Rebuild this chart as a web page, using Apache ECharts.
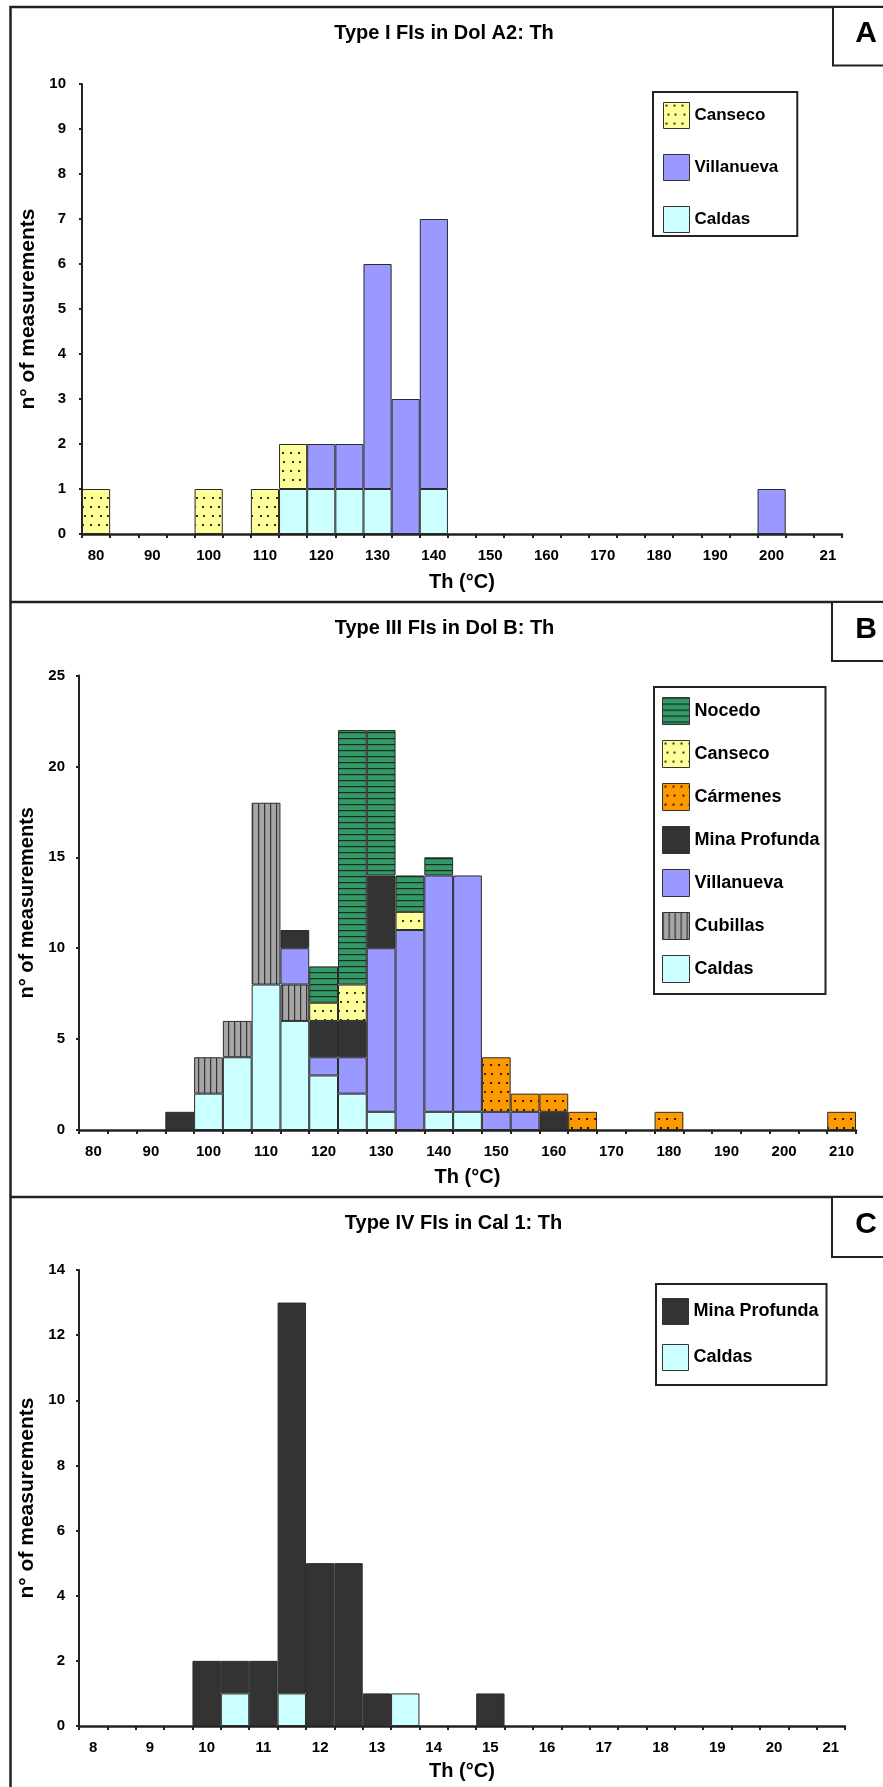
<!DOCTYPE html>
<html>
<head>
<meta charset="utf-8">
<script src="https://cdn.jsdelivr.net/npm/echarts@6/dist/echarts.min.js"></script>
<style>
html,body{margin:0;padding:0;background:#fff;}
#c{width:883px;height:1787px;}
</style>
</head>
<body>
<div id="c"></div>
<script>
// ---------- categories / tick labels ----------
const catsA = ['80','85','90','95','100','105','110','115','120','125','130','135','140','145','150','155','160','165','170','175','180','185','190','195','200','205','21'];
const catsB = ['80','85','90','95','100','105','110','115','120','125','130','135','140','145','150','155','160','165','170','175','180','185','190','195','200','205','210'];
const catsC = ['8','8.5','9','9.5','10','10.5','11','11.5','12','12.5','13','13.5','14','14.5','15','15.5','16','16.5','17','17.5','18','18.5','19','19.5','20','20.5','21'];

// ---------- panel A: Type I FIs in Dol A2 ----------
const caldasA     = [0,0,0,0,0,0,0,1,1,1,1,0,1,0,0,0,0,0,0,0,0,0,0,0,0,0,0];
const villanuevaA = [0,0,0,0,0,0,0,0,1,1,5,3,6,0,0,0,0,0,0,0,0,0,0,0,1,0,0];
const cansecoA    = [1,0,0,0,1,0,1,1,0,0,0,0,0,0,0,0,0,0,0,0,0,0,0,0,0,0,0];

// ---------- panel B: Type III FIs in Dol B ----------
const caldasB     = [0,0,0,0,2,4,8,6,3,2,1,0,1,1,0,0,0,0,0,0,0,0,0,0,0,0,0];
const cubillasB   = [0,0,0,0,2,2,10,2,0,0,0,0,0,0,0,0,0,0,0,0,0,0,0,0,0,0,0];
const villanuevaB = [0,0,0,0,0,0,0,2,1,2,9,11,13,13,1,1,0,0,0,0,0,0,0,0,0,0,0];
const minaB       = [0,0,0,1,0,0,0,1,2,2,4,0,0,0,0,0,1,0,0,0,0,0,0,0,0,0,0];
const carmenesB   = [0,0,0,0,0,0,0,0,0,0,0,0,0,0,3,1,1,1,0,0,1,0,0,0,0,0,1];
const cansecoB    = [0,0,0,0,0,0,0,0,1,2,0,1,0,0,0,0,0,0,0,0,0,0,0,0,0,0,0];
const nocedoB     = [0,0,0,0,0,0,0,0,2,14,8,2,1,0,0,0,0,0,0,0,0,0,0,0,0,0,0];

// ---------- panel C: Type IV FIs in Cal 1 ----------
const caldasC     = [0,0,0,0,0,1,0,1,0,0,0,1,0,0,0,0,0,0,0,0,0,0,0,0,0,0,0];
const minaC       = [0,0,0,0,2,1,2,12,5,5,1,0,0,0,1,0,0,0,0,0,0,0,0,0,0,0,0];

// ---------- fills ----------
function dotTile(bg){
  const c=document.createElement('canvas'); c.width=16; c.height=18;
  const g=c.getContext('2d'); g.fillStyle=bg; g.fillRect(0,0,16,18);
  g.fillStyle='#000';
  [[3,3],[11,3],[5,12],[12,12]].forEach(p=>{g.beginPath();g.arc(p[0],p[1],1.05,0,Math.PI*2);g.fill();});
  return {image:c, repeat:'repeat'};
}
function hStripe(bg){
  const c=document.createElement('canvas'); c.width=8; c.height=6;
  const g=c.getContext('2d'); g.fillStyle=bg; g.fillRect(0,0,8,6);
  g.fillStyle='#1c2a22'; g.fillRect(0,0,8,1.2);
  return {image:c, repeat:'repeat'};
}
function vStripe(bg){
  const c=document.createElement('canvas'); c.width=6; c.height=8;
  const g=c.getContext('2d'); g.fillStyle=bg; g.fillRect(0,0,6,8);
  g.fillStyle='#333'; g.fillRect(0,0,1.2,8);
  return {image:c, repeat:'repeat'};
}
const FILL = {
  'Caldas': '#CCFFFF',
  'Villanueva': '#9999FF',
  'Mina Profunda': '#333333',
  'Canseco': dotTile('#FFFF99'),
  'Cármenes': dotTile('#FF9900'),
  'Nocedo': hStripe('#339966'),
  'Cubillas': vStripe('#A6A6A6')
};

const FF = "'Liberation Sans', Arial, Helvetica, sans-serif";

function bar(name, data, gi){
  return {
    type:'bar', name:name, xAxisIndex:gi, yAxisIndex:gi, stack:'s'+gi,
    data: data.map(v => v === 0 ? null : v),
    barCategoryGap:'0%',
    itemStyle:{color:FILL[name], borderColor:'#2b2b2b', borderWidth:1},
    emphasis:{disabled:true}
  };
}

function xAx(gi, cats, gap){
  return {
    gridIndex:gi, type:'category', data:cats,
    axisLine:{show:true, lineStyle:{color:'#222', width:2.5}},
    axisTick:{show:true, interval:0, length:4, lineStyle:{color:'#222', width:2}},
    axisLabel:{interval:1, margin:14, fontSize:15, fontWeight:'bold', color:'#000', fontFamily:FF},
    splitLine:{show:false},
    name:'Th (°C)', nameLocation:'middle', nameGap:gap,
    nameTextStyle:{fontSize:20, fontWeight:'bold', color:'#000', fontFamily:FF}
  };
}
function yAx(gi, max, interval, margin, nsize){
  return {
    gridIndex:gi, type:'value', min:0, max:max, interval:interval,
    axisLine:{show:true, lineStyle:{color:'#222', width:2}},
    axisTick:{show:true, length:3, lineStyle:{color:'#222', width:2}},
    axisLabel:{margin:margin, fontSize:15, fontWeight:'bold', color:'#000', fontFamily:FF},
    splitLine:{show:false},
    name:'n° of measurements', nameLocation:'middle', nameGap:40,
    nameTextStyle:{fontSize:nsize, fontWeight:'bold', color:'#000', fontFamily:FF}
  };
}
function leg(data, left, top, pad, w, h, gap, fs){
  return {
    data:data, orient:'vertical', left:left, top:top, padding:pad,
    itemWidth:w, itemHeight:h, itemGap:gap, icon:'rect', selectedMode:false,
    backgroundColor:'#fff', borderColor:'#222', borderWidth:2, borderRadius:0,
    itemStyle:{borderColor:'#333', borderWidth:1},
    textStyle:{fontSize:fs, fontWeight:'bold', color:'#000', fontFamily:FF}
  };
}

const chart = echarts.init(document.getElementById('c'), null, {renderer:'canvas'});
chart.setOption({
  animation:false,
  backgroundColor:'#fff',
  grid:[
    {left:82, top:84, width:760, height:450},
    {left:79, top:675.5, width:777, height:454.5},
    {left:79, top:1270, width:766, height:456}
  ],
  xAxis:[ xAx(0, catsA, 38), xAx(1, catsB, 37), xAx(2, catsC, 35) ],
  yAxis:[ yAx(0, 10, 1, 16, 21), yAx(1, 25, 5, 14, 20), yAx(2, 14, 2, 14, 21) ],
  legend:[
    leg(['Canseco','Villanueva','Caldas'], 653, 92, [10,19,3,10], 26, 26, 25, 17),
    leg(['Nocedo','Canseco','Cármenes','Mina Profunda','Villanueva','Cubillas','Caldas'], 654, 687, [10,6,11,8], 27, 27, 15, 18),
    leg(['Mina Profunda','Caldas'], 656, 1284, [14,8,14,6], 26, 26, 19, 18)
  ],
  series:[
    bar('Caldas', caldasA, 0), bar('Villanueva', villanuevaA, 0), bar('Canseco', cansecoA, 0),
    bar('Caldas', caldasB, 1), bar('Cubillas', cubillasB, 1), bar('Villanueva', villanuevaB, 1),
    bar('Mina Profunda', minaB, 1), bar('Cármenes', carmenesB, 1), bar('Canseco', cansecoB, 1),
    bar('Nocedo', nocedoB, 1),
    bar('Caldas', caldasC, 2), bar('Mina Profunda', minaC, 2)
  ],
  graphic:[
    {type:'rect', shape:{x:10.5, y:7, width:900, height:1800}, style:{fill:null, stroke:'#222', lineWidth:2.5}, silent:true},
    {type:'line', shape:{x1:10.5, y1:602, x2:883, y2:602}, style:{stroke:'#222', lineWidth:2.5}, silent:true},
    {type:'line', shape:{x1:10.5, y1:1197, x2:883, y2:1197}, style:{stroke:'#222', lineWidth:2.5}, silent:true},
    {type:'rect', shape:{x:833, y:7, width:80, height:58.5}, style:{fill:'#fff', stroke:'#222', lineWidth:2}, silent:true},
    {type:'rect', shape:{x:832, y:602, width:80, height:59}, style:{fill:'#fff', stroke:'#222', lineWidth:2}, silent:true},
    {type:'rect', shape:{x:832, y:1197, width:80, height:60}, style:{fill:'#fff', stroke:'#222', lineWidth:2}, silent:true},
    {type:'text', x:866, y:34, style:{text:'A', font:'bold 30px '+FF, fill:'#000', textAlign:'center', textVerticalAlign:'middle'}, silent:true},
    {type:'text', x:866, y:630, style:{text:'B', font:'bold 30px '+FF, fill:'#000', textAlign:'center', textVerticalAlign:'middle'}, silent:true},
    {type:'text', x:866, y:1225, style:{text:'C', font:'bold 30px '+FF, fill:'#000', textAlign:'center', textVerticalAlign:'middle'}, silent:true},
    {type:'text', x:444, y:33, style:{text:'Type I FIs in Dol A2: Th', font:'bold 20px '+FF, fill:'#000', textAlign:'center', textVerticalAlign:'middle'}, silent:true},
    {type:'text', x:444.5, y:628, style:{text:'Type III FIs in Dol B: Th', font:'bold 20px '+FF, fill:'#000', textAlign:'center', textVerticalAlign:'middle'}, silent:true},
    {type:'text', x:453.5, y:1223, style:{text:'Type IV FIs in Cal 1: Th', font:'bold 20px '+FF, fill:'#000', textAlign:'center', textVerticalAlign:'middle'}, silent:true}
  ]
});
</script>
</body>
</html>
